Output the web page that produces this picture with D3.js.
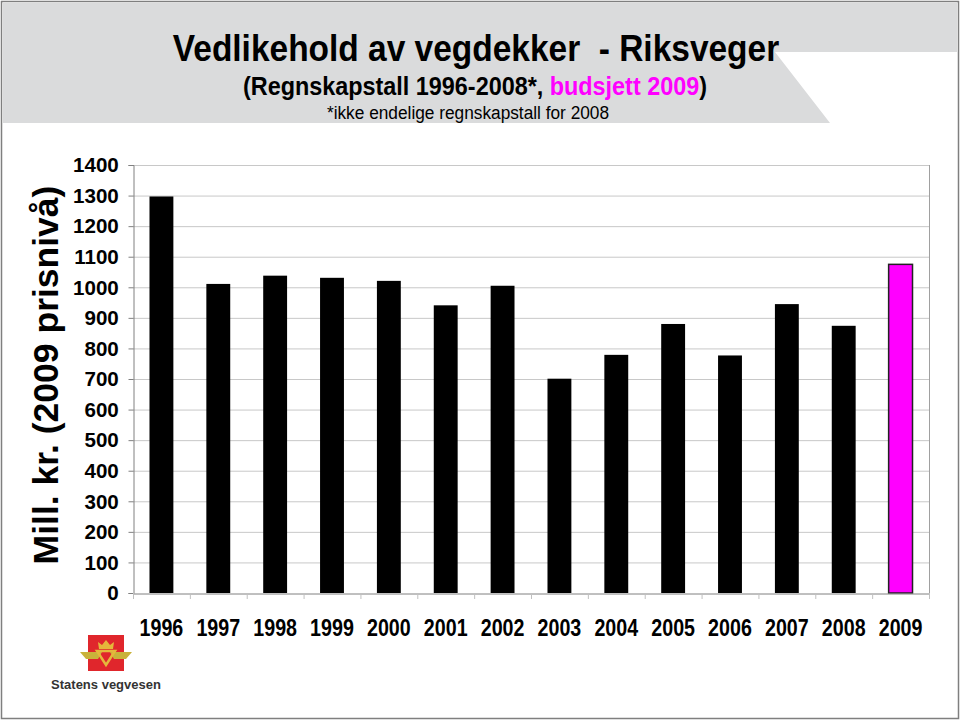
<!DOCTYPE html>
<html>
<head>
<meta charset="utf-8">
<script src="https://cdn.jsdelivr.net/npm/d3@7"></script>
<style>
  html, body { margin: 0; padding: 0; background: #fff; }
  svg { display: block; }
  .sans { font-family: "Liberation Sans", Arial, sans-serif; }
</style>
</head>
<body>
<svg id="chart" width="960" height="720"></svg>
<script>
// ---- data ----
const years = ["1996","1997","1998","1999","2000","2001","2002","2003","2004","2005","2006","2007","2008","2009"];
const values = [1297, 1011, 1038, 1031, 1021, 941, 1005, 701, 779, 880, 777, 945, 874, 1075];
const budgetYear = "2009";
const yTicks = [0,100,200,300,400,500,600,700,800,900,1000,1100,1200,1300,1400];
const titleText = "Vedlikehold av vegdekker  - Riksveger";
const subtitleParts = ["(Regnskapstall 1996-2008*, ", "budsjett 2009", ")"];
const noteText = "*ikke endelige regnskapstall for 2008";
const yLabel = "Mill. kr. (2009 prisnivå)";

const svg = d3.select("#chart");
const W = 960, H = 720;
const plot = {left: 133, right: 929, top: 165, bottom: 593};

// background header shape
svg.append("path")
  .attr("d", "M3,3 L957,3 L957,52 L775,52 L830,123 L3,123 Z")
  .attr("fill", "#dadbdc");

// outer frame
svg.append("rect").attr("x", 1.5).attr("y", 1.5).attr("width", W - 3).attr("height", H - 3)
  .attr("fill", "none").attr("stroke", "#7f7f7f").attr("stroke-width", 1.5);

// titles (condensed via horizontal scale)
svg.append("text").attr("class", "sans")
  .attr("transform", "translate(476,61) scale(0.905,1)")
  .attr("text-anchor", "middle")
  .attr("font-size", 37).attr("font-weight", "bold").attr("fill", "#000")
  .style("white-space", "pre")
  .text(titleText);

const sub = svg.append("text").attr("class", "sans")
  .attr("transform", "translate(475,95) scale(0.9,1)")
  .attr("text-anchor", "middle")
  .attr("font-size", 26).attr("font-weight", "bold").attr("fill", "#000");
sub.append("tspan").text(subtitleParts[0]);
sub.append("tspan").attr("fill", "#ff00ff").text(subtitleParts[1]);
sub.append("tspan").text(subtitleParts[2]);

svg.append("text").attr("class", "sans")
  .attr("transform", "translate(468,119) scale(0.96,1)")
  .attr("text-anchor", "middle")
  .attr("font-size", 18).attr("fill", "#000")
  .text(noteText);

// scales
const x = d3.scaleBand().domain(years).range([plot.left, plot.right]).paddingInner(0.58).paddingOuter(0.29);
const y = d3.scaleLinear().domain([0, 1400]).range([plot.bottom, plot.top]);

// gridlines
svg.append("g").selectAll("line").data(yTicks.filter(d => d > 0)).join("line")
  .attr("x1", plot.left).attr("x2", plot.right)
  .attr("y1", d => y(d) + 0.5).attr("y2", d => y(d) + 0.5)
  .attr("stroke", "#c8c8c8").attr("stroke-width", 1);

// right border of plot
svg.append("line").attr("x1", plot.right + 0.5).attr("x2", plot.right + 0.5)
  .attr("y1", plot.top).attr("y2", plot.bottom)
  .attr("stroke", "#a0a0a0");

// bars
svg.append("g").selectAll("rect").data(years).join("rect")
  .attr("x", d => x(d))
  .attr("y", (d, i) => y(values[i]))
  .attr("width", x.bandwidth())
  .attr("height", (d, i) => y(0) - y(values[i]))
  .attr("fill", d => d === budgetYear ? "#ff00ff" : "#000")
  .attr("stroke", d => d === budgetYear ? "#222" : "none")
  .attr("stroke-width", 1.5);

// y axis
const yAxis = d3.axisLeft(y).tickValues(yTicks).tickSize(5).tickPadding(10).tickFormat(d3.format("d"));
const gy = svg.append("g").attr("transform", `translate(${plot.left + 0.5},0)`).call(yAxis);
gy.select(".domain").attr("stroke", "#808080");
gy.selectAll(".tick line").attr("stroke", "#808080");
gy.selectAll(".tick text").attr("class", "sans").attr("font-size", 21).attr("font-weight", "bold").attr("fill", "#000")
  .attr("transform", "scale(0.98,1)");

// x axis
const xAxis = d3.axisBottom(x).tickSize(0).tickPadding(25);
const gx = svg.append("g").attr("transform", `translate(0,${plot.bottom + 0.5})`).call(xAxis);
gx.select(".domain").attr("stroke", "#808080");
gx.selectAll(".tick text").attr("class", "sans").attr("font-size", 24).attr("font-weight", "bold").attr("fill", "#000")
  .attr("transform", "scale(0.82,1)");
// category separator ticks
const step = x.step();
const sepPositions = years.map(d => x(d) - (step - x.bandwidth()) / 2).concat([plot.right]);
svg.append("g").selectAll("line").data(sepPositions).join("line")
  .attr("x1", d => d + 0.5).attr("x2", d => d + 0.5)
  .attr("y1", plot.bottom).attr("y2", plot.bottom + 6)
  .attr("stroke", "#c0c0c0");

// y label
svg.append("text").attr("class", "sans")
  .attr("transform", `translate(58,${(185 + 565) / 2}) rotate(-90)`)
  .attr("text-anchor", "middle")
  .attr("font-size", 35.5).attr("font-weight", "bold").attr("fill", "#000")
  .text(yLabel);

// logo (Statens vegvesen)
const logo = svg.append("g").attr("transform", "translate(106,653)");
logo.append("rect").attr("x", -18).attr("y", -18).attr("width", 36).attr("height", 36).attr("fill", "#e0262c");
logo.append("path").attr("d", "M-7,-4 L-8,-11 L-4,-8 L0,-13 L4,-8 L8,-11 L7,-4 Z").attr("fill", "#e5b73b");
logo.append("path").attr("d", "M-26,-1 L-4,-1 L-8,6 L-20,6 Z M26,-1 L4,-1 L8,6 L20,6 Z").attr("fill", "#c9b23a");
logo.append("path").attr("d", "M-9,-2 L9,-2 L0,12 Z").attr("fill", "none").attr("stroke", "#e5b73b").attr("stroke-width", 2.5);
logo.append("text").attr("class", "sans").attr("x", 0).attr("y", 36).attr("text-anchor", "middle")
  .attr("font-size", 13).attr("font-weight", "bold").attr("fill", "#333")
  .text("Statens vegvesen");
</script>
</body>
</html>
